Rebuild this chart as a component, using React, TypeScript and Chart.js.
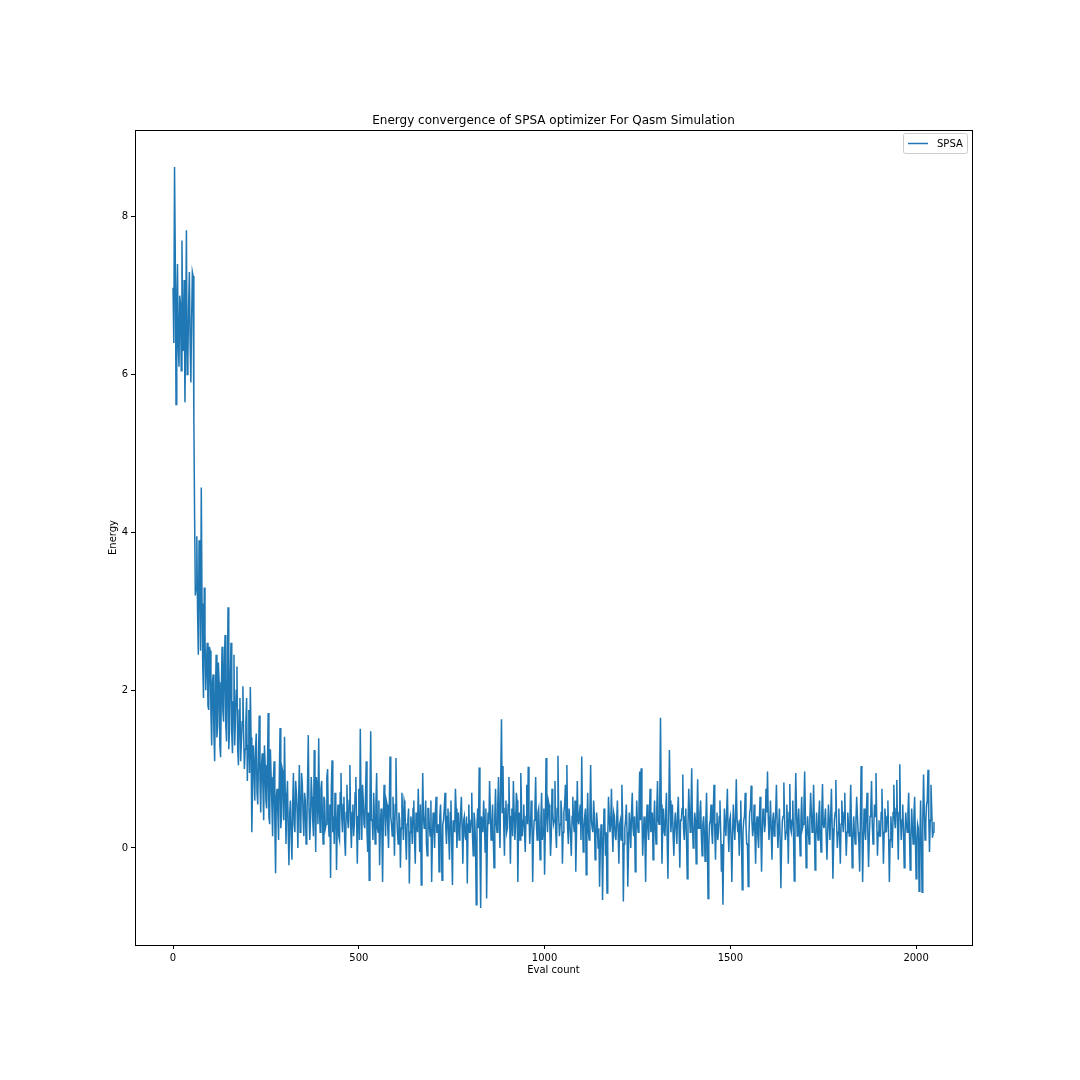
import React, { useEffect, useRef } from "react";
import { Chart, registerables } from "chart.js";

Chart.register(...registerables);

const TITLE = "Energy convergence of SPSA optimizer For Qasm Simulation";
const X_LABEL = "Eval count";
const Y_LABEL = "Energy";
const SERIES_NAME = "SPSA";
const X_TICKS = [0, 500, 1000, 1500, 2000];
const Y_TICKS = [0, 2, 4, 6, 8];
const EVAL_STEP = 4;

// energy at evals 0, 4, 8, ...
const energyStart = [
  7.1, 8.63, 5.62, 7.4, 6.1, 6.9, 7.7, 6.3, 5.65, 7.83, 6.2, 7.3, 5.9, 7.3, 5.45, 3.2, 3.95, 2.45, 3.5, 4.57,
  2.3, 3.3, 2.0, 2.6, 1.75, 2.5, 1.3, 2.2, 1.1, 2.45, 1.55, 2.1, 1.15, 2.55, 1.6, 2.7, 1.35, 3.05, 1.5, 2.6,
  1.2, 2.45, 1.65, 2.3, 1.05, 1.9, 1.35, 2.05, 1.0, 1.6, 0.85, 1.75, 2.04, 0.2, 1.3, 0.6, 1.45, 0.55, 1.68, 0.45,
  1.2, 0.35, 1.05, 0.5, 1.71, 0.3, 0.9, 0.15, 1.1, -0.32, 0.75, 0.1, 1.52, 0.4, 0.95, 1.41, 0.05, 0.85, -0.22, 0.6,
  -0.15, 0.95, 0.2, 0.7, 0.0, 1.05, 0.3, 0.8, 0.15, 0.6, 0.25, 1.43, 0.1, 0.9, 0.35, 1.24, -0.05, 0.75, 1.39, 0.2,
  0.85, 0.05, 0.6, 0.3, 1.0, 0.15, -0.38, 1.11, 0.4, 0.7, -0.28, 0.55, 0.1, 0.95, 0.2, 0.65, -0.1, 0.8, 0.25, 1.05,
  0.0, 0.55, 0.3, 0.9, -0.2, 0.75, 1.51, 0.1, 0.6, 0.25, 1.1, -0.05, -0.41, 1.48, 0.35, 0.7, 0.05, 0.95, 0.2, -0.22,
  0.5, -0.43, 0.8, 0.15, 0.55, 0.0, 1.16, 0.3, 0.65, -0.1, 1.14, 0.2, 0.45, -0.25, 0.7, 0.1, 0.55, -0.15, 0.35, -0.45,
  0.4, 0.05, 0.6, -0.2, 0.3, 0.75, -0.05, -0.47, 0.95, 0.25, 0.6, -0.1, 0.5, 0.15, -0.43, 0.45, 0.0, 0.65, 0.2, -0.3,
];
const energyMiddle = [
  0.55, -0.41, 0.35, 0.7, 0.05, 0.5, -0.15, 0.6, -0.47, 0.3, 0.75, 0.0, 0.45, 0.2, 0.65, -0.2, 0.4, 0.1, -0.45, 0.55,
  0.2, 0.7, -0.1, 0.35, -0.72, 0.5, 1.02, -0.76, 0.3, 0.6, -0.05, -0.64, 0.45, 0.85, 0.1, 0.55, -0.25, 0.75, 0.2, 0.9,
  0.0, 1.63, 1.04, -0.1, 0.6, 0.25, 0.9, -0.2, 0.5, 0.85, 0.1, 0.7, -0.43, 0.45, 0.95, 0.15, 0.55, -0.05, 0.8, 1.03,
  0.05, 0.6, -0.43, 0.35, 0.9, 0.1, 0.5, -0.15, 0.7, 0.25, -0.34, 1.14, 0.2, 0.55, -0.1, 0.75, 0.3, 0.85, 0.0, 1.17,
  0.15, 0.6, -0.2, 0.45, 0.8, 1.05, 0.05, 0.5, -0.1, 0.65, 0.2, -0.3, 0.85, 0.3, 0.55, 1.16, -0.05, 0.4, -0.34, 0.7,
  0.1, 1.05, 0.25, 0.6, -0.15, 0.45, 0.0, -0.49, 0.3, -0.66, 0.5, -0.1, -0.57, 0.65, 0.2, 0.75, -0.05, 0.4, 0.1, 0.6,
  -0.2, 0.35, 0.8, -0.68, 0.25, 0.55, -0.49, 0.45, 0.0, 0.7, 0.15, -0.3, 0.6, 0.2, 0.97, 1.01, -0.1, 0.4, -0.43, 0.55,
  0.1, 0.75, 0.25, -0.15, 0.6, 0.05, 0.85, 0.3, 1.65, -0.2, 0.5, 0.15, 0.7, -0.39, 1.24, 0.2, 0.55, -0.1, 0.45, 0.05,
];
const energyEnd = [
  0.65, -0.25, 0.35, 0.93, 0.1, 0.5, -0.39, 0.75, 0.2, 1.01, 0.0, 0.45, -0.2, 0.87, 0.25, 0.6, -0.1, 0.4, -0.17, 0.7,
  -0.64, 0.3, 0.55, 0.05, 0.8, -0.15, 0.45, 0.2, 0.6, -0.3, -0.72, 0.5, 0.15, 0.75, -0.05, 0.4, -0.43, 0.55, 0.1, 0.87,
  0.2, -0.1, 0.6, -0.53, 0.35, 0.7, 0.05, -0.49, 0.45, 0.79, 0.15, 0.55, -0.2, 0.4, 0.0, 0.65, -0.3, 0.5, 0.2, 0.75,
  0.97, 0.1, 0.6, -0.15, 0.45, 0.25, 0.8, 0.0, 0.5, -0.51, 0.35, 0.83, 0.1, 0.55, -0.2, 0.81, 0.2, 0.6, -0.42, 0.95,
  0.15, 0.5, -0.1, 0.65, 0.3, 0.97, -0.25, 0.4, 0.05, 0.7, 0.2, 0.8, -0.28, 0.45, 0.1, 0.6, -0.05, 0.81, 0.25, 0.5,
  -0.15, 0.55, 0.1, 0.75, -0.39, 0.35, 0.86, 0.0, 0.5, -0.2, 0.6, 0.2, 0.7, -0.1, 0.45, 0.15, 0.8, -0.25, 0.4, 0.05,
  0.65, 0.2, -0.3, 1.04, -0.43, 0.5, 0.1, 0.7, -0.24, 0.4, 0.85, 0.05, 0.55, 0.95, -0.1, 0.35, 0.15, 0.75, -0.2, 0.5,
  0.2, 0.6, -0.43, 0.4, 0.0, 0.8, 0.25, 0.86, -0.15, 1.06, 0.1, 0.55, -0.25, 0.45, 0.2, 0.7, -0.28, 0.5, 0.05, 0.65,
  -0.39, 0.3, -0.55, 0.6, -0.56, 0.93, 0.1, 0.55, 0.99, -0.05, 0.8, 0.13, 0.33,
];

// energy at evals 2, 6, 10, ...
const energyOddStart = [
  6.4, 7.5, 6.9, 6.35, 7.0, 6.05, 6.6, 7.2, 6.5, 6.0, 6.9, 6.4, 6.7, 7.25, 4.2, 3.3, 3.0, 3.9, 2.5, 3.1,
  1.9, 2.7, 2.35, 1.8, 2.55, 1.7, 2.1, 1.45, 1.9, 1.4, 2.35, 1.3, 2.0, 1.75, 2.3, 1.55, 2.05, 1.25, 2.2, 1.45,
  1.85, 1.3, 2.0, 1.25, 1.75, 1.1, 1.6, 1.45, 1.25, 1.9, 1.3, 0.95, 1.4, 0.75, 1.05, 1.25, 0.7, 1.15, 0.85, 1.05,
  0.75, 1.3, 0.6, 0.95, 0.4, 1.25, 0.55, 0.85, 0.3, 0.65, 0.45, 0.9, 0.25, 1.0, 0.35, 0.7, 0.6, 0.2, 0.45, 0.15,
  0.55, 0.3, 0.85, 0.45, 0.65, 0.2, 0.95, 0.4, 0.7, 0.05, 0.8, 0.5, 0.35, 0.65, 0.15, 0.55, 0.9, 0.3, 0.5, 0.75,
  0.4, 0.65, 0.25, 0.9, 0.35, 0.55, 0.75, 0.2, 0.05, 0.6, 0.3, 0.15, 0.7, 0.4, 0.55, 0.1, 0.45, 0.35, 0.6, 0.3,
  0.45, 0.15, 0.7, 0.35, 0.4, 0.1, 0.55, 0.8, 0.3, 0.65, 0.2, 0.45, 0.6, 0.35, 0.1, 0.4, 0.55, 0.25, 0.6, 0.3,
  0.2, 0.35, 0.45, 0.6, 0.25, 0.5, 0.4, 0.15, 0.3, 0.55, 0.45, 0.05, 0.35, 0.25, 0.4, 0.6, 0.15, 0.3, 0.5, 0.2,
  0.3, 0.5, 0.1, 0.45, 0.2, 0.35, 0.55, 0.15, 0.4, 0.3, 0.05, 0.5, 0.25, 0.6, 0.1, 0.35, 0.45, 0.2, 0.3, 0.4,
];
const energyOddMiddle = [
  0.1, 0.3, 0.5, 0.25, 0.4, 0.15, 0.45, 0.05, 0.35, 0.2, 0.5, 0.3, 0.1, 0.45, 0.25, 0.35, 0.15, 0.4, 0.3, 0.2,
  0.35, 0.15, 0.45, 0.1, 0.3, 0.25, 0.0, 0.4, 0.2, 0.35, 0.5, 0.15, 0.3, 0.45, 0.25, 0.1, 0.4, 0.3, 0.55, 0.35,
  0.9, 0.45, 0.3, 0.5, 0.2, 0.55, 0.35, 0.4, 0.15, 0.45, 0.3, 0.6, 0.25, 0.1, 0.5, 0.35, 0.2, 0.4, 0.3, 0.45,
  0.25, 0.4, 0.15, 0.5, 0.3, 0.45, 0.2, 0.35, 0.1, 0.5, 0.25, 0.4, 0.6, 0.3, 0.15, 0.45, 0.35, 0.2, 0.5, 0.4,
  0.3, 0.45, 0.2, 0.55, 0.35, 0.25, 0.5, 0.15, 0.4, 0.3, 0.6, 0.2, 0.35, 0.45, 0.1, 0.4, 0.25, 0.5, 0.3, 0.2,
  0.45, 0.35, 0.2, 0.4, 0.1, 0.3, 0.25, 0.0, 0.15, 0.05, 0.35, 0.2, 0.1, 0.4, 0.3, 0.25, 0.45, 0.15, 0.35, 0.2,
  0.3, 0.1, 0.4, 0.05, 0.35, 0.2, 0.0, 0.3, 0.45, 0.25, 0.4, 0.15, 0.3, 0.5, 0.35, 0.45, 0.2, 0.1, 0.3, 0.25,
  0.4, 0.2, 0.45, 0.3, 0.25, 0.5, 0.35, 0.6, 0.55, 0.3, 0.2, 0.45, 0.1, 0.35, 0.6, 0.4, 0.15, 0.3, 0.25, 0.45,
];
const energyOddEnd = [
  0.2, 0.35, 0.5, 0.25, 0.4, 0.1, 0.3, 0.45, 0.5, 0.3, 0.2, 0.35, 0.4, 0.25, 0.45, 0.15, 0.3, 0.2, 0.35, 0.1,
  0.05, 0.35, 0.2, 0.45, 0.25, 0.3, 0.1, 0.4, 0.2, 0.05, 0.0, 0.3, 0.45, 0.2, 0.35, 0.1, 0.15, 0.3, 0.4, 0.35,
  0.25, 0.35, 0.1, 0.2, 0.4, 0.3, 0.05, 0.15, 0.5, 0.35, 0.25, 0.2, 0.3, 0.15, 0.35, 0.2, 0.25, 0.4, 0.3, 0.45,
  0.4, 0.3, 0.2, 0.35, 0.15, 0.45, 0.3, 0.25, 0.1, 0.05, 0.4, 0.35, 0.2, 0.3, 0.45, 0.25, 0.35, 0.15, 0.3, 0.5,
  0.3, 0.2, 0.35, 0.25, 0.5, 0.4, 0.15, 0.2, 0.35, 0.45, 0.3, 0.35, 0.1, 0.25, 0.4, 0.2, 0.45, 0.3, 0.35, 0.15,
  0.2, 0.35, 0.4, 0.25, 0.05, 0.45, 0.3, 0.2, 0.15, 0.3, 0.35, 0.45, 0.25, 0.2, 0.3, 0.4, 0.25, 0.1, 0.2, 0.35,
  0.4, 0.05, 0.35, 0.3, 0.1, 0.25, 0.45, 0.2, 0.15, 0.5, 0.3, 0.25, 0.4, 0.35, 0.2, 0.15, 0.45, 0.3, 0.2, 0.35,
  0.4, 0.15, 0.1, 0.2, 0.45, 0.35, 0.5, 0.3, 0.45, 0.4, 0.35, 0.2, 0.15, 0.3, 0.45, 0.2, 0.1, 0.25, 0.4, 0.15,
  0.1, 0.25, 0.0, 0.05, 0.35, 0.45, 0.3, 0.6, 0.4, 0.35, 0.5, 0.2,
];

const energy = [...energyStart, ...energyMiddle, ...energyEnd];
const energyOdd = [...energyOddStart, ...energyOddMiddle, ...energyOddEnd];

const FONT = "'DejaVu Sans', sans-serif";
const LINE_COLOR = "#1f77b4";

const decorPlugin = {
  id: "decor",
  afterDraw(chart: any) {
    const { ctx, chartArea } = chart;
    const { left, right, top, bottom } = chartArea;
    ctx.save();
    ctx.strokeStyle = "#000";
    ctx.lineWidth = 1;
    ctx.strokeRect(Math.round(left) + 0.5, Math.round(top) + 0.5, Math.round(right - left), Math.round(bottom - top));
    ctx.fillStyle = "#000";
    ctx.font = `12px ${FONT}`;
    ctx.textAlign = "center";
    ctx.textBaseline = "alphabetic";
    ctx.fillText(TITLE, (left + right) / 2, top - 6);
    ctx.font = `10px ${FONT}`;
    ctx.textBaseline = "middle";
    ctx.fillText(X_LABEL, (left + right) / 2, 970);
    ctx.save();
    ctx.translate(113, (top + bottom) / 2);
    ctx.rotate(-Math.PI / 2);
    ctx.fillText(Y_LABEL, 0, 0);
    ctx.restore();
    const bx = 903.5, by = 133.5, bw = 64, bh = 20;
    const r = 2;
    ctx.beginPath();
    ctx.moveTo(bx + r, by);
    ctx.lineTo(bx + bw - r, by);
    ctx.quadraticCurveTo(bx + bw, by, bx + bw, by + r);
    ctx.lineTo(bx + bw, by + bh - r);
    ctx.quadraticCurveTo(bx + bw, by + bh, bx + bw - r, by + bh);
    ctx.lineTo(bx + r, by + bh);
    ctx.quadraticCurveTo(bx, by + bh, bx, by + bh - r);
    ctx.lineTo(bx, by + r);
    ctx.quadraticCurveTo(bx, by, bx + r, by);
    ctx.closePath();
    ctx.fillStyle = "rgba(255,255,255,0.8)";
    ctx.fill();
    ctx.strokeStyle = "#cccccc";
    ctx.stroke();
    ctx.beginPath();
    ctx.strokeStyle = LINE_COLOR;
    ctx.lineWidth = 1.5;
    ctx.moveTo(908, 143.5);
    ctx.lineTo(928, 143.5);
    ctx.stroke();
    ctx.fillStyle = "#000";
    ctx.textAlign = "left";
    ctx.fillText(SERIES_NAME, 937, 144);
    ctx.restore();
  },
};

export default function App() {
  const canvasRef = useRef<HTMLCanvasElement | null>(null);

  useEffect(() => {
    document.body.style.margin = "0";
    const canvas = canvasRef.current;
    if (!canvas) return;
    const points: { x: number; y: number }[] = [];
    energy.forEach((y, i) => {
      points.push({ x: i * EVAL_STEP, y });
      if (i < energyOdd.length) points.push({ x: i * EVAL_STEP + EVAL_STEP / 2, y: energyOdd[i] });
    });
    const chart = new Chart(canvas, {
      type: "line",
      data: {
        datasets: [
          {
            label: SERIES_NAME,
            data: points,
            borderColor: LINE_COLOR,
            backgroundColor: LINE_COLOR,
            borderWidth: 1.5,
            pointRadius: 0,
            tension: 0,
            fill: false,
          },
        ],
      },
      options: {
        animation: false,
        responsive: false,
        maintainAspectRatio: false,
        layout: { padding: { top: 130, right: 108, left: 0, bottom: 0 } },
        plugins: {
          legend: { display: false },
          title: { display: false },
          tooltip: { enabled: false },
        },
        scales: {
          x: {
            type: "linear",
            min: -102.4,
            max: 2150.4,
            afterFit: (scale: any) => {
              scale.height = 135;
            },
            afterBuildTicks: (scale: any) => {
              scale.ticks = X_TICKS.map((v) => ({ value: v }));
            },
            grid: { drawOnChartArea: false, drawTicks: true, tickLength: 4, color: "#000" },
            border: { display: true, color: "#000", width: 1 },
            ticks: {
              font: { family: FONT, size: 10 },
              color: "#000",
              padding: 3,
              maxRotation: 0,
              autoSkip: false,
              callback: (v: any) => String(v),
            },
          },
          y: {
            type: "linear",
            min: -1.23,
            max: 9.1,
            afterFit: (scale: any) => {
              scale.width = 135;
            },
            afterBuildTicks: (scale: any) => {
              scale.ticks = Y_TICKS.map((v) => ({ value: v }));
            },
            grid: { drawOnChartArea: false, drawTicks: true, tickLength: 4, color: "#000" },
            border: { display: true, color: "#000", width: 1 },
            ticks: {
              font: { family: FONT, size: 10 },
              color: "#000",
              padding: 3,
              autoSkip: false,
              callback: (v: any) => String(v),
            },
          },
        },
      },
      plugins: [decorPlugin],
    });
    return () => chart.destroy();
  }, []);

  return (
    <div style={{ width: 1080, height: 1080, background: "#fff" }}>
      <canvas ref={canvasRef} width={1080} height={1080} style={{ display: "block" }} />
    </div>
  );
}
